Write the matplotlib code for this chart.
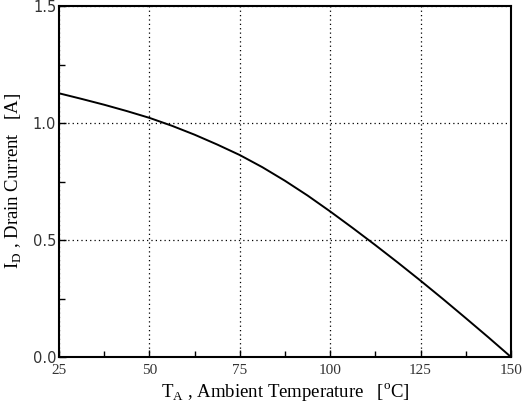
## Drain current derating vs ambient temperature

import numpy as np
import matplotlib
matplotlib.use('Agg')
import matplotlib.pyplot as plt
from matplotlib.ticker import MultipleLocator

matplotlib.rcParams['font.family'] = ['Liberation Serif', 'DejaVu Serif']
matplotlib.rcParams['mathtext.fontset'] = 'custom'
matplotlib.rcParams['mathtext.rm'] = 'Liberation Serif'

# Data
temp = [25, 31.25, 37.5, 43.75, 50, 56.25, 62.5, 68.75, 75, 81.25, 87.5,
        93.75, 100, 106.25, 112.5, 118.75, 125, 131.25, 137.5, 143.75, 150]
current = [1.127, 1.103, 1.078, 1.051, 1.022, 0.988, 0.950, 0.908, 0.863, 0.811, 0.753,
           0.690, 0.622, 0.551, 0.478, 0.403, 0.326, 0.247, 0.166, 0.084, 0.0]

xticks = [25, 50, 75, 100, 125, 150]
yticks = [0.0, 0.5, 1.0, 1.5]

fig = plt.figure(figsize=(5.28, 4.13), dpi=100)
ax = fig.add_axes([59/528, 1-357/413, 452/528, 351/413])

ax.plot(temp, current, color='k', lw=1.4)

ax.set_xlim(25, 150)
ax.set_ylim(0, 1.5)
ax.set_xticks(xticks)
ax.set_yticks(yticks)
ax.set_xticklabels([str(t) for t in xticks], fontsize=11)
ax.set_yticklabels(['%.1f' % v for v in yticks], fontsize=10.5, family='DejaVu Sans')
ax.xaxis.set_minor_locator(MultipleLocator(12.5))
ax.yaxis.set_minor_locator(MultipleLocator(0.25))
ax.tick_params(which='major', direction='in', length=5, width=1, colors='k', labelcolor='#333333')
ax.tick_params(axis='x', which='major', pad=5)
ax.tick_params(axis='y', which='major', pad=2)
ax.tick_params(which='minor', direction='in', length=4, width=1)

ax.grid(True, which='major', linestyle=(0, (1, 2.5)), color='k', lw=0.9)
for s in ax.spines.values():
    s.set_linewidth(1.5)

ax.set_xlabel(r'T$_\mathregular{A}$ , Ambient Temperature   [$^\mathregular{o}$C]', fontsize=13.5, labelpad=3)
ax.set_ylabel(r'I$_\mathregular{D}$ , Drain Current   [A]', fontsize=13.5, labelpad=6)

plt.savefig('out.png', dpi=100)
